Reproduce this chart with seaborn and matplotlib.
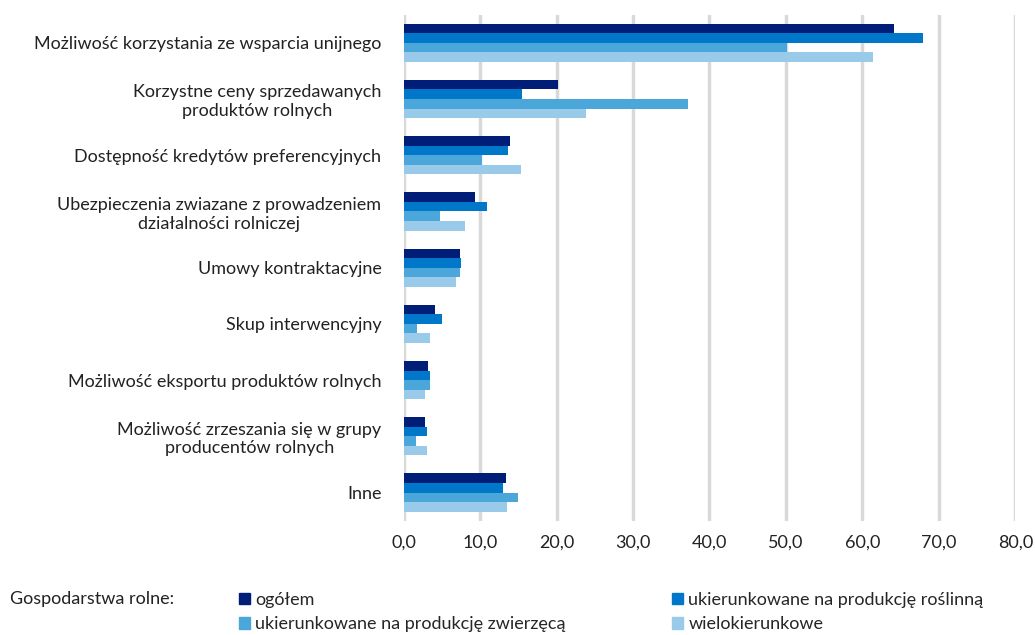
import pandas as pd
import matplotlib.pyplot as plt
import seaborn as sns
from matplotlib.patches import Patch

# --- Dane ---
kategorie = [
    'Możliwość korzystania ze wsparcia unijnego',
    'Korzystne ceny sprzedawanych\nproduktów rolnych',
    'Dostępność kredytów preferencyjnych',
    'Ubezpieczenia zwiazane z prowadzeniem\ndziałalności rolniczej',
    'Umowy kontraktacyjne',
    'Skup interwencyjny',
    'Możliwość eksportu produktów rolnych',
    'Możliwość zrzeszania się w grupy\nproducentów rolnych',
    'Inne',
]
serie = ['ogółem', 'ukierunkowane na produkcję roślinną',
         'ukierunkowane na produkcję zwierzęcą', 'wielokierunkowe']
ogolem = [64.1, 20.2, 13.9, 9.3, 7.4, 4.1, 3.2, 2.8, 13.4]
roslinna = [67.9, 15.5, 13.7, 10.9, 7.5, 5.0, 3.5, 3.0, 13.0]
zwierzeca = [50.2, 37.2, 10.3, 4.8, 7.4, 1.8, 3.5, 1.6, 14.9]
wielo = [61.4, 23.9, 15.4, 8.0, 6.8, 3.5, 2.8, 3.0, 13.5]
kolory = ['#001D77', '#0077C8', '#4BA6DA', '#9ACAEA']
ticki = [0, 10, 20, 30, 40, 50, 60, 70, 80]

df = pd.DataFrame({
    'kategoria': kategorie * 4,
    'seria': [s for s in serie for _ in kategorie],
    'wartosc': ogolem + roslinna + zwierzeca + wielo,
})

sns.set_style('white')
plt.rcParams['font.family'] = ['Lato', 'DejaVu Sans']

fig, ax = plt.subplots(figsize=(10.35, 6.35), dpi=100)
fig.subplots_adjust(left=0.39, right=0.981, top=0.977, bottom=0.18)

sns.barplot(data=df, y='kategoria', x='wartosc', hue='seria', orient='h',
            palette=kolory, saturation=1, width=0.68, order=kategorie,
            hue_order=serie, legend=False, ax=ax, linewidth=0, zorder=3)

ax.set_xlim(0, 80)
ax.set_xticks(ticki)
ax.set_xticklabels([f'{t:.1f}'.replace('.', ',') for t in ticki], fontsize=13, color='#222222')
ax.tick_params(axis='y', labelsize=13, colors='#222222', length=0, pad=16)
ax.tick_params(axis='x', length=0, pad=10)
for lbl in ax.get_yticklabels():
    lbl.set_horizontalalignment('right')
    lbl.set_multialignment('center')
ax.set_xlabel('')
ax.set_ylabel('')
ax.grid(axis='x', color='#D9D9D9', linewidth=2.5, zorder=0)
for s in ax.spines.values():
    s.set_visible(False)

# --- Legenda ---
fig.text(0.01, 0.057, 'Gospodarstwa rolne:', fontsize=13, color='#222222', va='center')
uchwyty = [Patch(color=kolory[i], label=serie[i]) for i in [0, 2, 1, 3]]
fig.legend(handles=uchwyty, loc='center left', bbox_to_anchor=(0.215, 0.036), ncol=2,
           frameon=False, fontsize=13, handlelength=0.6, handleheight=0.6,
           handletextpad=0.3, columnspacing=5.9, labelspacing=0.45)

plt.savefig('out.png', dpi=100)
